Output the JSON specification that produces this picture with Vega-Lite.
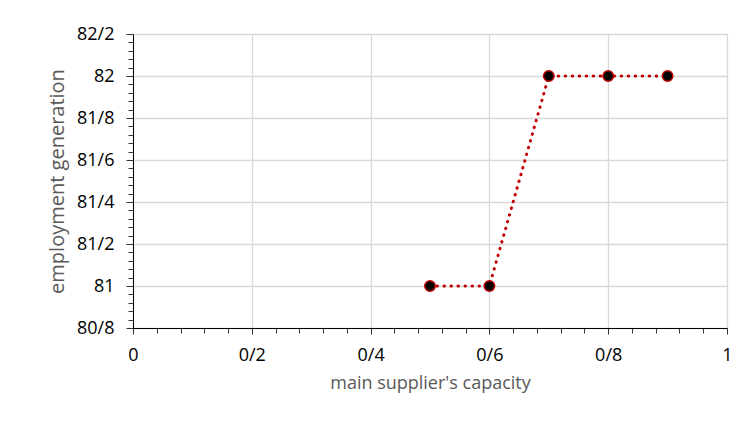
{
  "$schema": "https://vega.github.io/schema/vega-lite/v6.json",
  "autosize": "none",
  "width": 594,
  "height": 294,
  "padding": {"left": 133, "top": 34, "right": 20, "bottom": 98},
  "background": "white",
  "config": {
    "view": {"stroke": null},
    "font": "Open Sans",
    "axis": {
      "labelFont": "Open Sans",
      "labelFontSize": 18,
      "labelColor": "#000000",
      "titleFont": "Open Sans",
      "titleFontSize": 18,
      "titleFontWeight": "normal",
      "titleColor": "#595959",
      "domainColor": "#000000",
      "domainWidth": 1,
      "tickColor": "#333333",
      "gridColor": "#d9d9d9",
      "gridWidth": 1.3
    }
  },
  "data": {
    "values": [
      {"capacity": 0.5, "employment": 81},
      {"capacity": 0.6, "employment": 81},
      {"capacity": 0.7, "employment": 82},
      {"capacity": 0.8, "employment": 82},
      {"capacity": 0.9, "employment": 82}
    ]
  },
  "resolve": {"axis": {"x": "independent", "y": "independent"}},
  "layer": [
    {
      "mark": {"type": "point", "opacity": 0},
      "encoding": {
        "x": {
          "field": "capacity", "type": "quantitative",
          "scale": {"domain": [0, 1], "nice": false, "zero": false},
          "axis": {
            "orient": "bottom",
            "values": [0.04, 0.08, 0.12, 0.16, 0.24, 0.28, 0.32, 0.36, 0.44, 0.48, 0.52, 0.56, 0.64, 0.68, 0.72, 0.76, 0.84, 0.88, 0.92, 0.96],
            "labels": false, "grid": false, "domain": false,
            "tickSize": 5, "title": null
          }
        },
        "y": {
          "field": "employment", "type": "quantitative",
          "scale": {"domain": [80.8, 82.2], "nice": false, "zero": false},
          "axis": {
            "orient": "left",
            "values": [80.84, 80.88, 80.92, 80.96, 81.04, 81.08, 81.12, 81.16, 81.24, 81.28, 81.32, 81.36, 81.44, 81.48, 81.52, 81.56, 81.64, 81.68, 81.72, 81.76, 81.84, 81.88, 81.92, 81.96, 82.04, 82.08, 82.12, 82.16],
            "labels": false, "grid": false, "domain": false,
            "tickSize": 5, "title": null
          }
        }
      }
    },
    {
      "mark": {"type": "line", "color": "#C00000", "strokeWidth": 3, "strokeDash": [0.5, 6.5], "strokeCap": "round"},
      "encoding": {
        "x": {
          "field": "capacity", "type": "quantitative",
          "scale": {"domain": [0, 1], "nice": false, "zero": false},
          "axis": {
            "orient": "bottom",
            "values": [0, 0.2, 0.4, 0.6, 0.8, 1],
            "labelExpr": "replace(replace(format(datum.value, '.1f'), '.0', ''), '.', '/')",
            "grid": true,
            "tickSize": 6,
            "labelPadding": 12,
            "labelFlush": false,
            "title": "main supplier's capacity",
            "titlePadding": 10
          }
        },
        "y": {
          "field": "employment", "type": "quantitative",
          "scale": {"domain": [80.8, 82.2], "nice": false, "zero": false},
          "axis": {
            "orient": "left",
            "values": [80.8, 81, 81.2, 81.4, 81.6, 81.8, 82, 82.2],
            "labelExpr": "replace(replace(format(datum.value, '.1f'), '.0', ''), '.', '/')",
            "grid": true,
            "tickSize": 7,
            "labelPadding": 12,
            "labelFlush": false,
            "title": "employment generation",
            "titleFontSize": 20,
            "titlePadding": 9
          }
        }
      }
    },
    {
      "mark": {"type": "point", "filled": true, "fill": "#000000", "stroke": "#C00000", "strokeWidth": 1.5, "size": 110, "opacity": 1},
      "encoding": {
        "x": {"field": "capacity", "type": "quantitative", "axis": null},
        "y": {"field": "employment", "type": "quantitative", "axis": null}
      }
    }
  ]
}
